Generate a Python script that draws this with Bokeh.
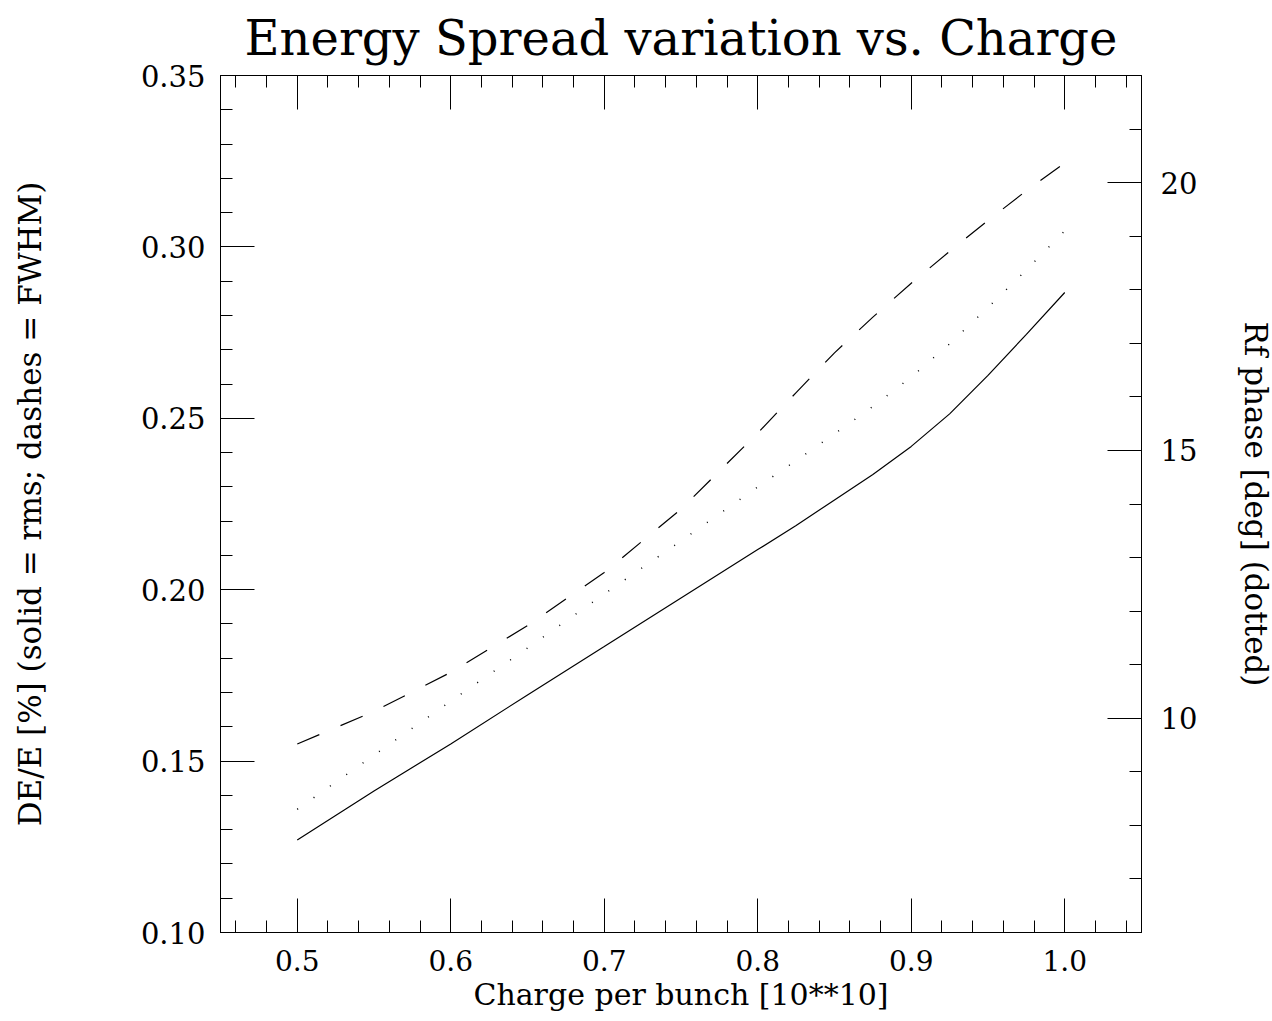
from bokeh.plotting import figure
from bokeh.models import (Range1d, LinearAxis, FixedTicker, PrintfTickFormatter)
from bokeh.embed import file_html
from bokeh.resources import INLINE

# ---- data ----
charge = [0.50, 0.55, 0.60, 0.65, 0.70, 0.75, 0.80, 0.825, 0.85, 0.875,
          0.90, 0.925, 0.95, 0.975, 1.00]
de_rms = [0.127, 0.1413, 0.155, 0.1693, 0.1834, 0.1976, 0.2117, 0.2187, 0.2262, 0.2336,
          0.2418, 0.2513, 0.2625, 0.2745, 0.2867]
de_fwhm = [0.155, 0.1645, 0.1759, 0.1895, 0.205, 0.2235, 0.2457, 0.2575, 0.2691, 0.2795,
           0.2894, 0.2987, 0.3077, 0.3164, 0.3245]
rf_phase = [8.30, 9.31, 10.32, 11.31, 12.32, 13.31, 14.32, 14.81, 15.31, 15.82,
            16.37, 16.99, 17.67, 18.37, 19.10]

x_major = [0.5, 0.6, 0.7, 0.8, 0.9, 1.0]
x_minor = [round(0.46 + 0.02 * i, 2) for i in range(30)]
y_major = [0.10, 0.15, 0.20, 0.25, 0.30, 0.35]
y_minor = [round(0.10 + 0.01 * i, 2) for i in range(26)]
r_major = [10, 15, 20]
r_minor = list(range(6, 23))

TITLE = "Energy Spread variation vs. Charge"
XLABEL = "Charge per bunch [10**10]"
YLABEL = "DE/E [%] (solid = rms; dashes = FWHM)"
RLABEL = "Rf phase [deg] (dotted)"

FONT = "DejaVu Serif"

p = figure(frame_width=921, frame_height=857,
           min_border_left=220, min_border_right=123,
           min_border_top=75, min_border_bottom=89,
           x_range=Range1d(0.45, 1.05), y_range=Range1d(0.10, 0.35),
           output_backend="svg", toolbar_location=None,
           x_axis_type=None, y_axis_type=None)
p.extra_y_ranges = {"rf": Range1d(6, 22)}
p.xgrid.visible = False
p.ygrid.visible = False
p.outline_line_color = "black"
p.outline_line_width = 1
p.background_fill_color = "white"
p.border_fill_color = "white"

p.title.text = TITLE
p.title.align = "center"
p.title.vertical_align = "top"
p.title.text_font = FONT
p.title.text_font_style = "normal"
p.title.text_font_size = "48px"
p.title.text_color = "black"
p.title.standoff = 16


def style(ax, label_size="29px"):
    ax.axis_line_color = "black"
    ax.major_tick_line_color = "black"
    ax.minor_tick_line_color = "black"
    ax.major_tick_in = 34
    ax.major_tick_out = 0
    ax.minor_tick_in = 12
    ax.minor_tick_out = 0
    ax.major_label_text_font = FONT
    ax.major_label_text_font_size = label_size
    ax.major_label_text_color = "black"
    ax.axis_label_text_font = FONT
    ax.axis_label_text_font_style = "normal"
    ax.axis_label_text_font_size = "31px"
    ax.axis_label_text_color = "black"


xb = LinearAxis(ticker=FixedTicker(ticks=x_major, minor_ticks=x_minor),
                formatter=PrintfTickFormatter(format="%.1f"), axis_label=XLABEL)
style(xb, label_size="28px")
xb.axis_label_text_font_size = "30px"
xb.major_label_standoff = 17
xb.axis_label_standoff = 3
p.add_layout(xb, "below")

xt = LinearAxis(ticker=FixedTicker(ticks=x_major, minor_ticks=x_minor),
                formatter=PrintfTickFormatter(format="%.1f"))
style(xt, label_size="1px")
xt.major_label_text_alpha = 0
xt.major_label_standoff = 0
p.add_layout(xt, "above")

yl = LinearAxis(ticker=FixedTicker(ticks=y_major, minor_ticks=y_minor),
                formatter=PrintfTickFormatter(format="%.2f"), axis_label=YLABEL)
style(yl)
yl.major_label_standoff = 15
yl.axis_label_standoff = 90
p.add_layout(yl, "left")

yr = LinearAxis(y_range_name="rf", ticker=FixedTicker(ticks=r_major, minor_ticks=r_minor),
                formatter=PrintfTickFormatter(format="%d"), axis_label=RLABEL)
style(yr)
yr.major_label_standoff = 19
yr.axis_label_standoff = 38
p.add_layout(yr, "right")

p.line(charge, de_rms, line_color="black", line_width=1.2)
p.line(charge, de_fwhm, line_color="black", line_width=1.2, line_dash="24 23")
p.line(charge, rf_phase, y_range_name="rf", line_color="black", line_width=1.5,
       line_dash="1 19")

open("out.html", "w").write(file_html(p, INLINE))
